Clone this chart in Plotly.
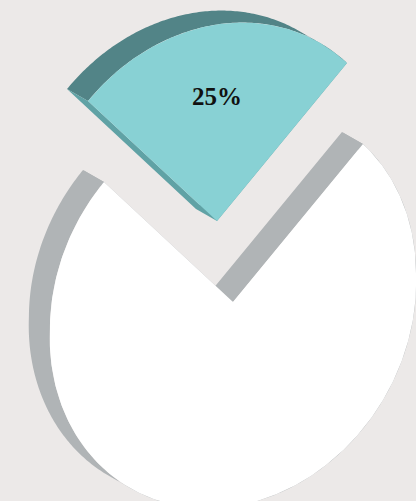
import numpy as np
import plotly.graph_objects as go

# ---- data ----
labels = ["25%", "75%"]
values = [25, 75]
face_colors = ["#88d1d4", "#ffffff"]
arc_side_colors = ["#528487", "#b0b4b6"]
edge_side_colors = ["#60a2a5", "#b0b4b6"]
show_label = [True, False]

# ---- layout / geometry style ----
W, H = 416, 501
BG = "#ece9e8"
# affine transform of unit circle -> tilted ellipse (math coords, y up)
Ma, Mb, Mc, Md = 183.1, 0.7, 26.9, 196.6
PERSP = 0.04                     # slight enlargement of the near (lower) half
APEX = (233.0, 302.0)            # centre of main pie (screen px)
EXPLODE = [(-16.0, -81.0), (0.0, 0.0)]   # per-slice pull-out (screen px)
DEPTH = (-21.0, -12.0)           # extrusion offset (screen px)
START = 45.0                     # degrees, counterclockwise


def pt(cx, cy, theta, r=1.0):
    t = np.radians(theta)
    f = 1.0 + PERSP * max(0.0, -np.sin(t))
    mx = Ma * np.cos(t) + Mb * np.sin(t)
    my = Mc * np.cos(t) + Md * np.sin(t)
    return cx + mx * r * f, cy - my * r * f


fig = go.Figure()
total = float(sum(values))
angles = []
a0 = START
for v in values:
    a1 = a0 + 360.0 * v / total
    angles.append((a0, a1))
    a0 = a1

side_traces = []
face_traces = []
annotations = []
for i, (lab, v) in enumerate(zip(labels, values)):
    t0, t1 = angles[i]
    cx = APEX[0] + EXPLODE[i][0]
    cy = APEX[1] + EXPLODE[i][1]
    n = max(8, int(abs(t1 - t0) * 1.5))
    ts = np.linspace(t0, t1, n)
    arc = [pt(cx, cy, t) for t in ts]
    dx, dy = DEPTH

    # arc side: strip of quads
    xs, ys = [], []
    for p, q in zip(arc[:-1], arc[1:]):
        xs += [p[0], q[0], q[0] + dx, p[0] + dx, p[0], None]
        ys += [p[1], q[1], q[1] + dy, p[1] + dy, p[1], None]
    side_traces.append(go.Scatter(x=xs, y=ys, mode="lines", fill="toself",
                                  fillcolor=arc_side_colors[i],
                                  line=dict(width=0, color=arc_side_colors[i]),
                                  hoverinfo="skip", showlegend=False))
    # cut-edge sides
    xs, ys = [], []
    for p in (arc[0], arc[-1]):
        xs += [cx, p[0], p[0] + dx, cx + dx, cx, None]
        ys += [cy, p[1], p[1] + dy, cy + dy, cy, None]
    side_traces.append(go.Scatter(x=xs, y=ys, mode="lines", fill="toself",
                                  fillcolor=edge_side_colors[i],
                                  line=dict(width=0, color=edge_side_colors[i]),
                                  hoverinfo="skip", showlegend=False))
    # face
    fx = [cx] + [p[0] for p in arc] + [cx]
    fy = [cy] + [p[1] for p in arc] + [cy]
    face_traces.append(go.Scatter(x=fx, y=fy, mode="lines", fill="toself",
                                  fillcolor=face_colors[i],
                                  line=dict(width=0, color=face_colors[i]),
                                  hoverinfo="skip", showlegend=False))
    if show_label[i]:
        lx, ly = pt(cx, cy, (t0 + t1) / 2.0, 0.635)
        annotations.append(dict(x=lx, y=ly, text="<b>%s</b>" % lab, showarrow=False,
                                font=dict(family="Liberation Serif", size=25, color="#111111"),
                                xanchor="center", yanchor="middle"))

# draw white pie first, then the exploded slice on top
order = [1, 0]
for i in order:
    fig.add_trace(side_traces[2 * i])
    fig.add_trace(side_traces[2 * i + 1])
    fig.add_trace(face_traces[i])

fig.update_layout(
    width=W, height=H,
    margin=dict(l=0, r=0, t=0, b=0),
    paper_bgcolor=BG, plot_bgcolor=BG,
    xaxis=dict(range=[0, W], visible=False, fixedrange=True),
    yaxis=dict(range=[H, 0], visible=False, fixedrange=True),
    annotations=annotations,
    showlegend=False,
)

fig.write_html("out.html", config={"displayModeBar": False})
